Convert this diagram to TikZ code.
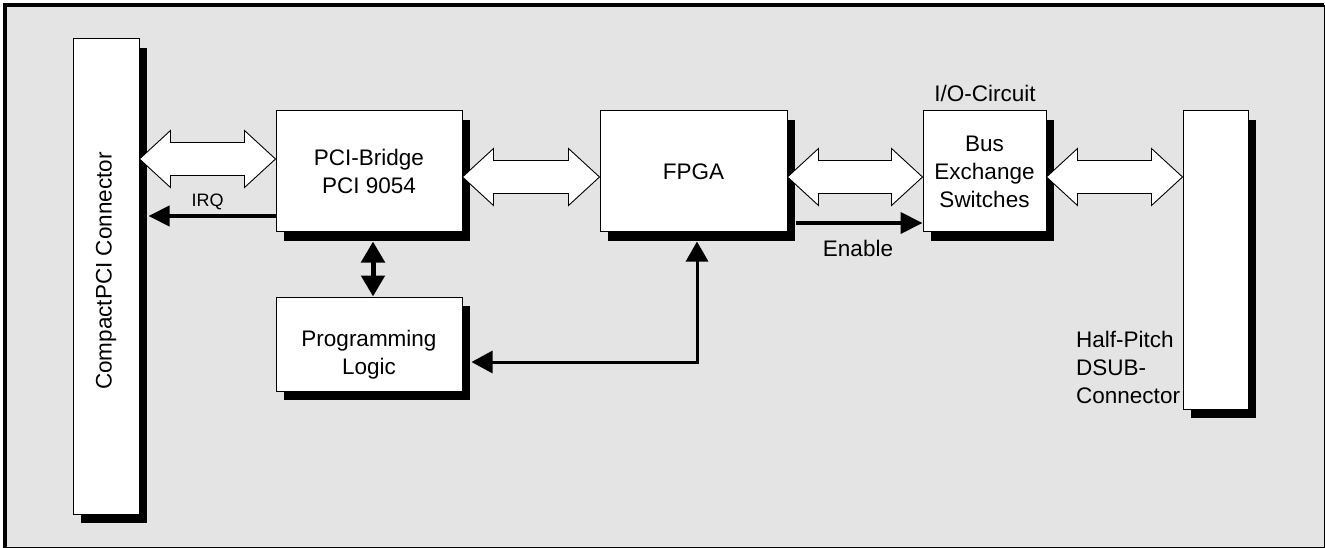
\documentclass[tikz,border=0pt]{standalone}
\usepackage{fontspec}
\setmainfont{Liberation Sans}
\usetikzlibrary{arrows.meta,calc,shadows}
\definecolor{bgray}{RGB}{228,228,228}
\newcommand\mainsz{\fontsize{22.5}{28}\selectfont}
\newcommand\irqsz{\fontsize{18}{22}\selectfont}
\newcommand\hollowarrow[2]{%
  \draw[harrow] (#1) -- ++(31,-28.5) -- ++(0,12) -- ($(#2)+(-31,-16.5)$) -- ++(0,-12) -- (#2)
     -- ++(-31,28.5) -- ++(0,-12) -- ($(#1)+(31,16.5)$) -- ++(0,12) -- cycle;}
\begin{document}
\begin{tikzpicture}[x=1pt,y=-1pt,
  box/.style={draw=black,line width=1pt,fill=white,inner sep=0pt,align=center,font=\mainsz,
     drop shadow={shadow xshift=8pt,shadow yshift=-9pt,fill=black,opacity=1}},
  lbl/.style={font=\mainsz,inner sep=0pt,align=center},
  harrow/.style={draw=black,fill=white,line width=0.9pt,line join=miter}]
\useasboundingbox (0,0) rectangle (1325,548);
\fill[bgray] (5,5) rectangle (1324,547.5);
\draw[line width=0.8pt] (1324,5) -- (1324,547.5) -- (5,547.5);
\draw[line width=4pt] (5,547.5) -- (5,5) -- (1324.4,5);
% boxes
\node[box,minimum width=66pt,minimum height=475pt] (conn) at (106,276.5) {};
\node[lbl,rotate=90] (conntxt) at (106,271) {CompactPCI Connector};
\node[box,minimum width=186pt,minimum height=121pt] (pci) at (369,171.5) {PCI-Bridge\\PCI 9054};
\node[box,minimum width=186pt,minimum height=94pt] (prog) at (369,344) {};
\node[lbl] (progtxt) at (369,355) {Programming\\Logic};
\node[box,minimum width=187pt,minimum height=121pt] (fpga) at (693.5,171.5) {FPGA};
\node[box,minimum width=123pt,minimum height=121pt] (bus) at (984.5,171.5) {Bus\\Exchange\\Switches};
\node[box,minimum width=65pt,minimum height=298pt] (dsub) at (1215.5,260) {};
% labels
\node[lbl,anchor=base] (iolbl) at (985,102) {I/O-Circuit};
\node[lbl,anchor=base] (enlbl) at (858,256) {Enable};
\node[font=\irqsz,inner sep=0pt,anchor=base] (irqlbl) at (207.5,207) {IRQ};
\node[lbl,align=left,anchor=west] (dsublbl) at (1076,367) {Half-Pitch\\DSUB-\\Connector};
% hollow bus arrows
\coordinate (a1) at (conn.east |- 0,159);
\coordinate (b1) at (pci.west |- 0,159);
\coordinate (a2) at (pci.east |- 0,177);
\coordinate (b2) at (fpga.west |- 0,177);
\coordinate (a3) at (fpga.east |- 0,177);
\coordinate (b3) at (bus.west |- 0,177);
\coordinate (a4) at (bus.east |- 0,177);
\coordinate (b4) at (dsub.west |- 0,177);
\hollowarrow{a1}{b1}
\hollowarrow{a2}{b2}
\hollowarrow{a3}{b3}
\hollowarrow{a4}{b4}
% solid arrows
\draw[line width=4pt,-{Triangle[length=21pt,width=20pt]}] (pci.west |- 0,216) -- ($(conn.east |- 0,216)+(9,0)$);
\draw[line width=5pt,{Triangle[length=21pt,width=23pt]}-{Triangle[length=21pt,width=23pt]}]
  ($(pci.south)+(4,9)$) -- ($(prog.north)+(4,0)$);
\draw[line width=3pt,line join=miter,{Triangle[length=21pt,width=22pt]}-{Triangle[length=20pt,width=22pt]}]
  ($(prog.east |- 0,362)+(9,0)$) -| ($(fpga.south)+(3.5,9)$);
\draw[line width=4pt,-{Triangle[length=22pt,width=21pt]}] ($(fpga.east |- 0,223)+(8,0)$) -- (bus.west |- 0,223);
\end{tikzpicture}
\end{document}
